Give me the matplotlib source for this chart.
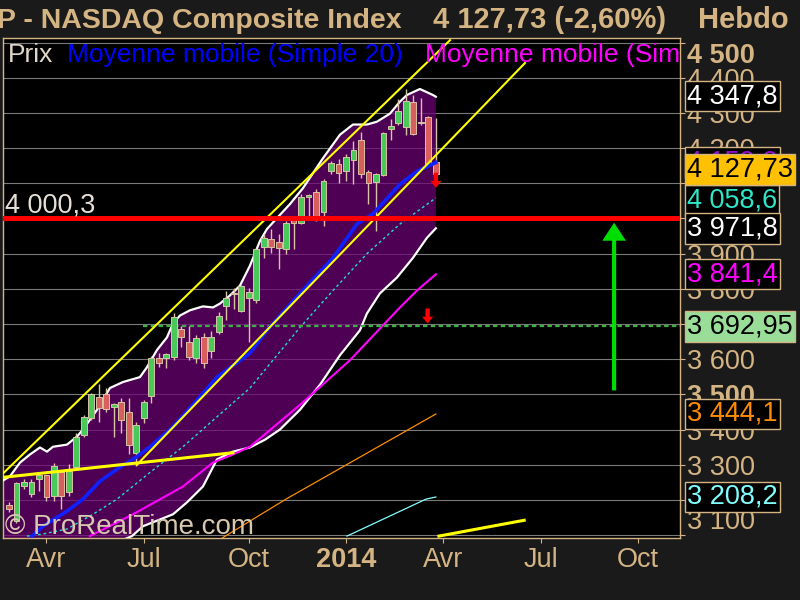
import matplotlib
matplotlib.use("Agg")
import matplotlib.pyplot as plt
import matplotlib.transforms as mtransforms

plt.rcParams['font.family'] = ['Liberation Sans', 'DejaVu Sans']

# weekly candles, index 0 = end of Feb 2013, last = week ending 4 Apr 2014
opens = [3185, 3140, 3238, 3216, 3258, 3270, 3210, 3278, 3222, 3292,
         3385, 3433, 3493, 3501, 3464, 3478, 3450, 3332, 3433, 3495,
         3603, 3603, 3606, 3685, 3648, 3603, 3662, 3623, 3676, 3752,
         3789, 3736, 3775, 3767, 3919, 3942, 3933, 3914, 3996, 3987,
         4061, 4075, 4018, 4134, 4154, 4134, 4165, 4222, 4131, 4103,
         4123, 4253, 4270, 4261, 4332, 4270, 4289, 4160]
highs = [3193, 3250, 3258, 3258, 3278, 3272, 3306, 3281, 3303, 3391,
         3442, 3504, 3529, 3518, 3476, 3490, 3490, 3422, 3484, 3608,
         3617, 3617, 3730, 3693, 3693, 3668, 3673, 3679, 3733, 3795,
         3803, 3812, 3801, 3916, 3956, 3970, 3956, 3993, 4001, 4069,
         4069, 4083, 4111, 4162, 4168, 4182, 4219, 4247, 4137, 4128,
         4247, 4284, 4340, 4368, 4351, 4343, 4290, 4286]
lows = [3165, 3135, 3230, 3207, 3224, 3196, 3196, 3173, 3210, 3286,
        3380, 3428, 3422, 3450, 3380, 3391, 3329, 3295, 3419, 3476,
        3577, 3575, 3597, 3634, 3597, 3589, 3575, 3603, 3671, 3710,
        3744, 3733, 3648, 3761, 3888, 3902, 3857, 3899, 3914, 3984,
        4001, 3993, 3979, 4125, 4100, 4106, 4097, 4114, 4041, 3964,
        4120, 4224, 4267, 4238, 4238, 4267, 4150, 4120]
closes = [3173, 3247, 3252, 3250, 3270, 3207, 3295, 3210, 3281, 3380,
          3436, 3501, 3462, 3459, 3473, 3428, 3357, 3414, 3478, 3603,
          3589, 3614, 3719, 3662, 3606, 3659, 3589, 3662, 3724, 3775,
          3784, 3809, 3792, 3914, 3945, 3919, 3916, 3987, 3987, 4061,
          4066, 4001, 4106, 4157, 4128, 4174, 4196, 4125, 4100, 4125,
          4244, 4264, 4306, 4335, 4241, 4275, 4155, 4127.73]

# Bollinger bands
bb_up_x = [-0.8, 0.13, 1.47, 2.8, 4.14, 5.07, 5.87, 7.74, 9.08, 9.88, 11.75,
           13.48, 15.22, 17.49, 18.42, 19.76, 21.1, 21.9, 22.83, 24.17, 25.9,
           27.24, 28.17, 29.5, 30.84, 32.18, 33.51, 34.45, 35.78, 37.52, 39.25,
           41.92, 44.19, 45.93, 47.8, 49.13, 50.87, 52.2, 53.14, 54.87, 56.6, 57]
bb_up = [3255, 3267, 3306, 3329, 3349, 3337, 3351, 3357, 3380, 3400, 3456,
         3518, 3535, 3549, 3577, 3626, 3662, 3702, 3724, 3739, 3750,
         3747, 3758, 3781, 3809, 3866, 3936, 3970, 4001, 4041, 4086,
         4171, 4238, 4267, 4267, 4275, 4298, 4332, 4351, 4368, 4351, 4346]
bb_lo_x = [-0.8, 8, 16.42, 17.89, 21.9, 23.77, 25.9, 27.77, 29.9, 32.18, 34.18,
           36.18, 38.85, 41.52, 44.19, 46.86, 47.8, 49.53, 51.8, 53.94, 55.81, 57]
bb_lo = [2980, 3020, 3097, 3125, 3159, 3193, 3238, 3315, 3337, 3349, 3371,
         3400, 3456, 3527, 3611, 3682, 3730, 3787, 3832, 3888, 3945, 3972]

# moving averages
sma20_x = [3.07, 4.54, 7.74, 9.88, 12.15, 14.42, 17.09, 18.83, 21.9, 25.5,
           27.77, 32.18, 34.45, 38.85, 43.26, 46.46, 48.6, 52.2, 54.47, 57]
sma20 = [3097, 3125, 3168, 3202, 3253, 3287, 3323, 3351, 3408, 3493,
         3549, 3617, 3682, 3787, 3888, 3984, 4013, 4097, 4134, 4159]
sma_cy_x = [2.4, 4.54, 7.74, 11.21, 14.42, 18.83, 23.23, 27.77, 32.18, 38.85,
            43.26, 47.8, 52.2, 57]
sma_cy = [3097, 3103, 3117, 3159, 3202, 3278, 3351, 3436, 3518, 3690,
          3795, 3900, 3984, 4058.6]
sma_mg_x = [10.81, 16.56, 23.23, 27.24, 29.9, 32.18, 38.85, 45.53, 49.93, 52.2,
            54.47, 57]
sma_mg = [3097, 3159, 3238, 3306, 3329, 3351, 3470, 3597, 3696, 3747,
          3795, 3841.4]
sma_or_x = [28.5, 36.98, 57]
sma_or = [3092, 3202, 3444.1]
sma_lc_x = [45.13, 55.67, 57]
sma_lc = [3097, 3202, 3208.2]

# yellow trend lines
tl_upper = ([-0.8, 58.9], [3275, 4507])
tl_lower = ([17.09, 68.9], [3300, 4442])
tl_flat = ([-0.8, 29.9], [3264, 3334])
tl_future = ([57.4, 68.8], [3097, 3142])

support = 4000.3
target = 3692.95
target_from = 17.9

month_pos = [5, 18, 32, 45, 58, 71, 84]
month_lbl = ["Avr", "Jul", "Oct", "2014", "Avr", "Jul", "Oct"]
price_levels = list(range(3100, 4501, 100))

# right-hand value tags: text, value, text colour, face colour, shift (pt)
tags = [
    ("4 347,8", 4347.8, "white", "black", 0),
    ("4 159,2", 4159.2, "#9010D0", "black", 0),
    ("4 058,6", 4058.6, "#2EE6C8", "black", -2),
    ("3 971,8", 3971.8, "white", "black", 0),
    ("4 127,73", 4127.73, "black", "#FFC000", 3),
    ("3 841,4", 3841.4, "#FF00FF", "black", 0),
    ("3 692,95", 3692.95, "black", "#99DD99", 0),
    ("3 444,1", 3444.1, "#FF8C00", "black", 0),
    ("3 208,2", 3208.2, "#80FFFF", "black", 0),
]

tan = "#D4B483"
W, H = 800, 600


def fx(x):
    return x / W


def fy(y):
    return 1 - y / H


fig = plt.figure(figsize=(8, 6), dpi=100, facecolor="#1a1a1a")
ax = fig.add_axes([fx(3.3), fy(537.5), (680 - 3.3) / W, (537.5 - 38) / H])
ax.set_facecolor("black")
ax.set_xlim(-0.76, 89.6)
ax.set_ylim(3093, 4513)

for s in ax.spines.values():
    s.set_color(tan)
    s.set_linewidth(1)

ax.set_axisbelow(True)
ax.yaxis.tick_right()
ax.set_yticks(price_levels)
ax.set_yticklabels([f"{v // 1000} {v % 1000:03d}" for v in price_levels])
ax.tick_params(axis="y", colors=tan, labelcolor=tan, labelsize=19.5,
               length=3.6, pad=1.4, direction="out")
ax.grid(axis="y", color="#7a7a7a", lw=0.8)
ylabs = ax.get_yticklabels()
for lab, v in zip(ylabs, price_levels):
    if v in (3500, 4500):
        lab.set_fontweight("bold")
ylabs[0].set_va("bottom")
ylabs[-1].set_va("top")

ax.set_xticks(month_pos)
ax.set_xticklabels(month_lbl)
ax.tick_params(axis="x", colors=tan, labelcolor=tan, labelsize=19.5,
               length=3.6, pad=3, direction="out")
for lab in ax.get_xticklabels():
    if lab.get_text() == "2014":
        lab.set_fontweight("bold")

# bollinger fill
ax.fill(bb_up_x + bb_lo_x[::-1], bb_up + bb_lo[::-1], color="#6c0076",
        alpha=0.72, lw=0, zorder=1)
ax.plot(bb_up_x, bb_up, color="white", lw=1.6, zorder=3)
ax.plot(bb_lo_x, bb_lo, color="white", lw=1.6, zorder=3)

ax.plot(sma_mg_x, sma_mg, color="#FF00FF", lw=1.5, zorder=3)
ax.plot(sma_cy_x, sma_cy, color="#20E0D0", lw=1, ls=(0, (2, 2)), zorder=3)
ax.plot(sma_or_x, sma_or, color="#FF8C00", lw=0.9, zorder=3)
ax.plot(sma_lc_x, sma_lc, color="#80FFFF", lw=0.9, zorder=3)

# candles
idx = list(range(len(closes)))
up = [c >= o for o, c in zip(opens, closes)]
ax.vlines(idx, lows, highs, color="#D9C3A5", lw=1, zorder=4)
ax.bar(idx, [max(abs(c - o), 2) for o, c in zip(opens, closes)],
       bottom=[min(o, c) for o, c in zip(opens, closes)], width=0.78,
       color=["#4BC85A" if u else "#D8605C" for u in up],
       edgecolor="#D9C3A5", linewidth=0.7, zorder=5)

ax.plot(sma20_x, sma20, color="#1020FF", lw=2.6, zorder=6)

ax.plot(*tl_upper, color="#FFFF00", lw=1.5, zorder=7)
ax.plot(*tl_lower, color="#FFFF00", lw=1.5, zorder=7)
ax.plot(*tl_flat, color="#FFFF00", lw=2.2, zorder=7)
ax.plot(*tl_future, color="#FFFF00", lw=2.2, zorder=7)

ax.axhline(support, color="#FF0000", lw=3.6, zorder=8)
ax.plot([target_from, 89.6], [target, target], color="#3CB043", lw=1.6,
        ls=(0, (2, 1.5)), zorder=3)

# arrows
ax.annotate("", xy=(80.8, 3988), xytext=(80.8, 3511),
            arrowprops=dict(arrowstyle="simple,head_width=17,head_length=13,tail_width=3",
                            mutation_scale=1, color="#00DD00", lw=0,
                            shrinkA=0, shrinkB=0), zorder=9)
for xa, y0, y1 in [(57, 4130, 4087), (55.9, 3744, 3701)]:
    ax.annotate("", xy=(xa, y1), xytext=(xa, y0),
                arrowprops=dict(arrowstyle="simple,head_width=8,head_length=5,tail_width=3.2",
                                mutation_scale=1, color="#FF0000", lw=0,
                                shrinkA=0, shrinkB=0), zorder=9)

# support label
ax.annotate("4 000,3", xy=(fx(5), support), xycoords=("figure fraction", "data"),
            xytext=(0, 4), textcoords="offset points", va="baseline",
            color="#E6E0D8", fontsize=19.5, zorder=9)

# legend strip
ax.text(fx(8), fy(62), "Prix", transform=fig.transFigure, color="#E0D8C8",
        fontsize=19, va="baseline", zorder=9, clip_on=True)
ax.text(fx(67), fy(62), "Moyenne mobile (Simple 20)", transform=fig.transFigure,
        color="#0000FF", fontsize=19, va="baseline", zorder=9, clip_on=True)
ax.text(fx(425), fy(62), "Moyenne mobile (Simple 50)", transform=fig.transFigure,
        color="#FF00FF", fontsize=19, va="baseline", zorder=9, clip_on=True)

# watermark
ax.text(fx(5), fy(534), "\u00a9 ProRealTime.com", transform=fig.transFigure,
        color="#D8C8B0", fontsize=20, va="baseline", zorder=9)

# value tags on the right axis
trans = mtransforms.blended_transform_factory(fig.transFigure, ax.transData)
for i, (txt, val, tc, fc, off) in enumerate(tags):
    ax.annotate(txt, xy=(fx(687), val), xycoords=trans, xytext=(0, off),
                textcoords="offset points", va="center", ha="left",
                color=tc, fontsize=19.5, annotation_clip=False,
                bbox=dict(boxstyle="square,pad=0.08", fc=fc, ec=tan, lw=1),
                zorder=20 + i)

# title row
fig.text(fx(-3), fy(28), "P - NASDAQ Composite Index", color=tan,
         fontsize=20.5, fontweight="bold", va="baseline")
fig.text(fx(433), fy(28), "4 127,73 (-2,60%)", color=tan,
         fontsize=21, fontweight="bold", va="baseline")
fig.text(fx(698), fy(28), "Hebdo", color=tan,
         fontsize=21, fontweight="bold", va="baseline")

fig.savefig("out.png", dpi=100, facecolor=fig.get_facecolor())
